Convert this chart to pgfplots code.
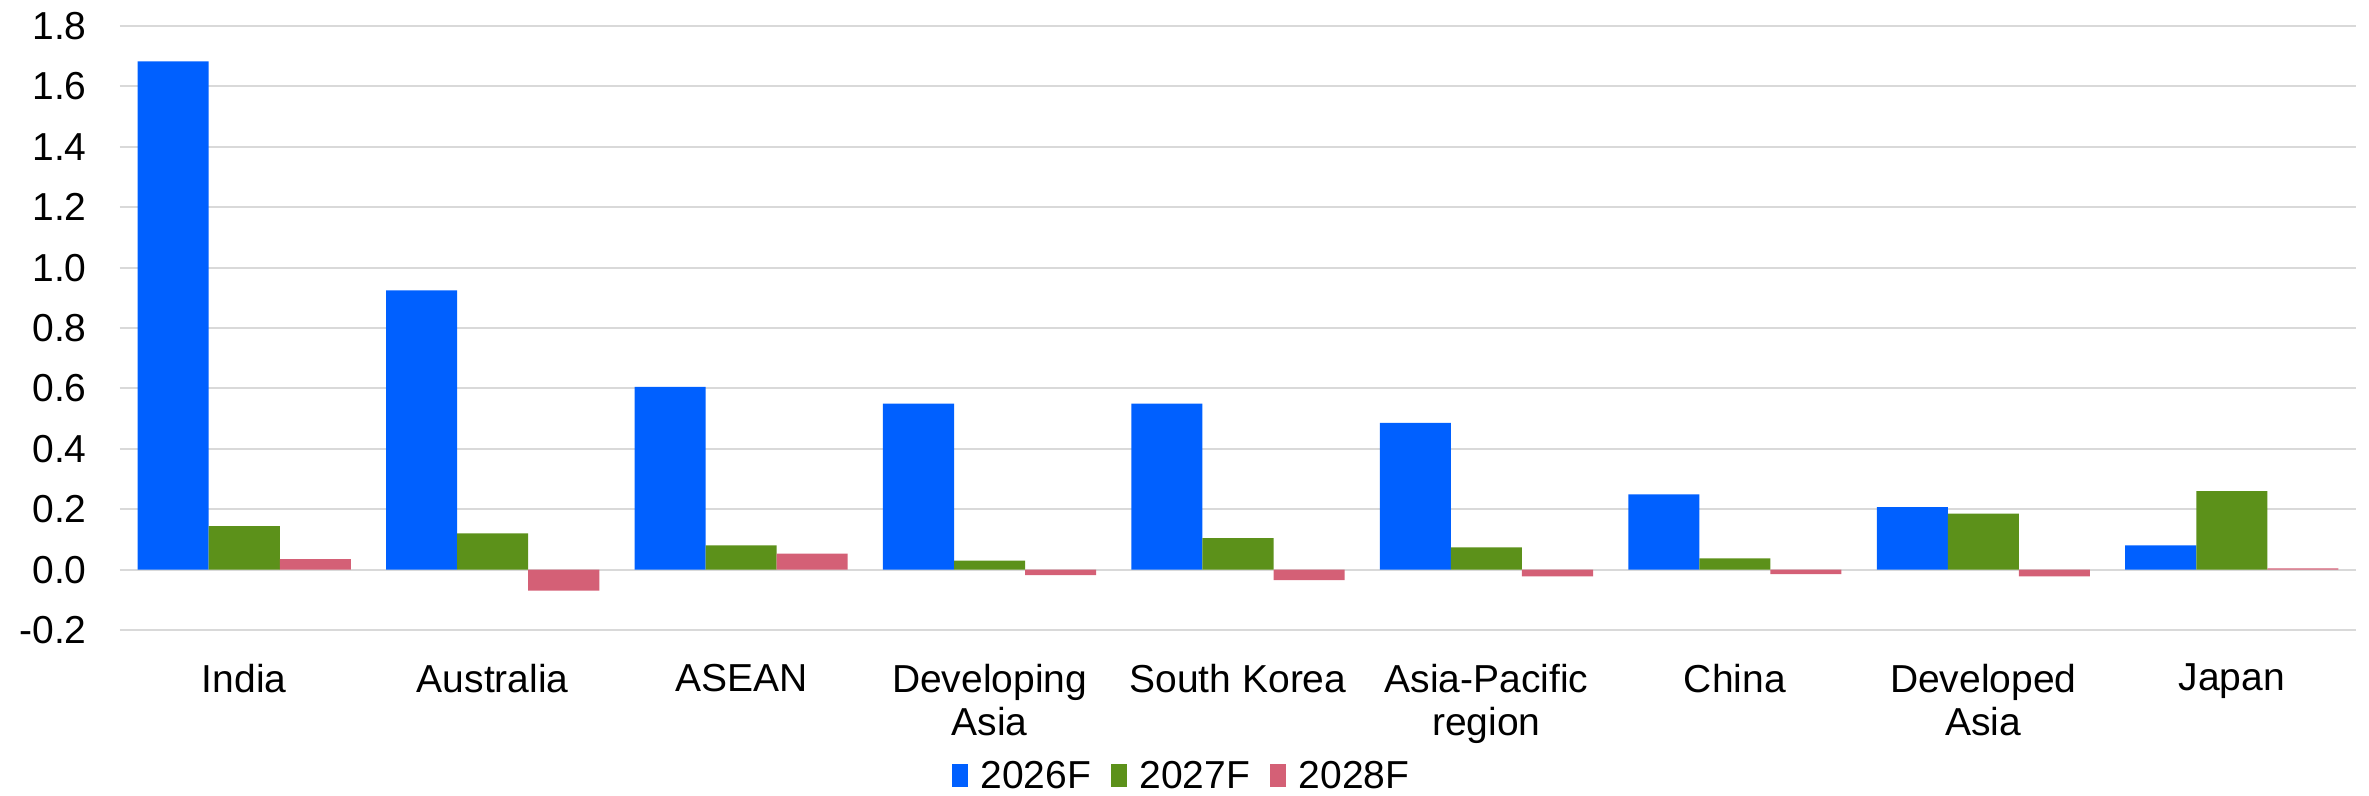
\documentclass[border=0pt]{standalone}
\usepackage{fontspec}
\setmainfont{Liberation Sans}
\usepackage{pgfplots}
\pgfplotsset{compat=1.18}
\usepackage{pgfplotstable}

\definecolor{cblue}{RGB}{0,96,255}
\definecolor{cgreen}{RGB}{92,145,26}
\definecolor{cred}{RGB}{212,96,118}
\definecolor{cgrid}{RGB}{217,217,217}
\newcommand\lbl{\fontsize{11.7}{12.9}\selectfont}

% categories at 0..8: value for 2026F, 2027F, 2028F
\pgfplotstableread{
x  a      b      c
0  1.683  0.144  0.035
1  0.925  0.120  -0.070
2  0.605  0.080  0.053
3  0.550  0.030  -0.018
4  0.550  0.104  -0.035
5  0.486  0.074  -0.022
6  0.249  0.037  -0.015
7  0.207  0.185  -0.022
8  0.080  0.260  0.004
}\datatable

\begin{document}
\begin{tikzpicture}
\begin{axis}[
  scale only axis,
  width=670.8pt, height=181.2pt,
  ybar=0pt, bar width=0.286,
  xmin=-0.5, xmax=8.5,
  ymin=-0.2, ymax=1.8,
  ytick={-0.2,0,0.2,...,1.8},
  xtick={0,...,8},
  xticklabels={India, Australia, ASEAN, {Developing\\Asia}, South Korea,
    {Asia-Pacific\\region}, China, {Developed\\Asia}, Japan},
  xticklabel style={align=center, font=\lbl, anchor=north, yshift=-6.6pt},
  yticklabel style={font=\lbl, anchor=east, xshift=-6.5pt,
    /pgf/number format/.cd, fixed, fixed zerofill, precision=1},
  /pgf/number format/assume math mode=true,
  axis line style={draw=none},
  major tick length=0pt,
  ymajorgrids, grid style={cgrid, line width=0.6pt},
  legend columns=3,
  legend style={draw=none, font=\lbl, at={(axis description cs:0.4758,-0.2434)},
    anchor=center, inner sep=0pt,
    /tikz/every even column/.append style={column sep=4pt}},
  legend cell align=left,
  legend image code/.code={\fill[#1] (0pt,-3pt) rectangle (4.8pt,3.8pt);
    \path (6.6pt,0pt);},
]
\addplot[fill=cblue, draw=none] table[x=x, y=a] {\datatable};
\addplot[fill=cgreen, draw=none] table[x=x, y=b] {\datatable};
\addplot[fill=cred, draw=none] table[x=x, y=c] {\datatable};
\legend{2026F, 2027F, 2028F}
\end{axis}
\pgfresetboundingbox
\path (current axis.south west) ++(-36pt,-49.5pt) rectangle ++(710.7pt,238.5pt);
\end{tikzpicture}
\end{document}
